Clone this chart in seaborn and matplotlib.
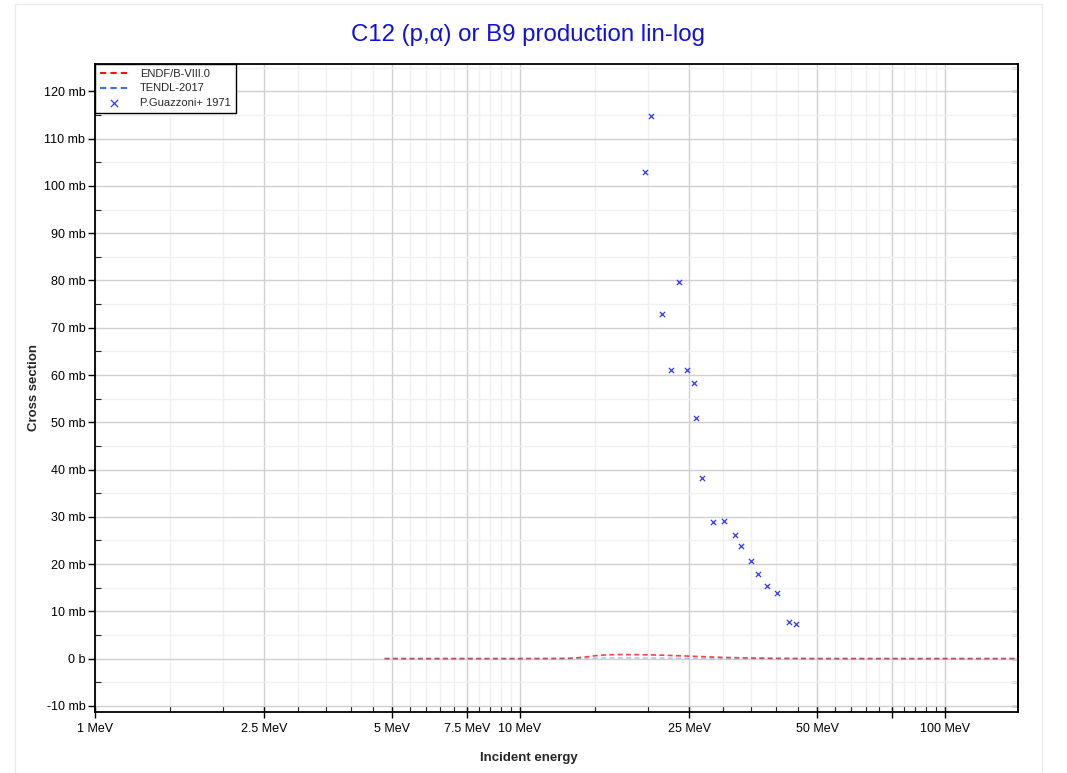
import numpy as np
import pandas as pd
import matplotlib
matplotlib.use("Agg")
import matplotlib.pyplot as plt
import seaborn as sns
from matplotlib.ticker import FixedLocator, FuncFormatter, NullFormatter
from matplotlib.patches import Rectangle

# ---------------- data ----------------
exp_energy = [19.7, 20.3, 21.6, 22.7, 23.7, 24.7, 25.7, 25.9, 26.8, 28.5,
              30.2, 32.1, 33.1, 35.0, 36.3, 38.1, 40.3, 43.0, 44.6]
exp_xs = [102.9, 114.7, 73.0, 61.0, 79.6, 61.0, 58.4, 51.0, 38.3, 28.8,
          29.2, 26.2, 23.9, 20.7, 17.8, 15.4, 13.8, 7.8, 7.4]

endf_energy = [4.8, 6, 8, 10, 12, 13, 14, 15, 16, 17, 18, 20, 22, 25, 28, 30,
               35, 40, 50, 70, 100, 150]
endf_xs = [0.0, 0.0, 0.0, 0.0, 0.02, 0.05, 0.25, 0.6, 0.8, 0.85, 0.85, 0.8,
           0.7, 0.52, 0.35, 0.25, 0.12, 0.05, 0.0, 0.0, 0.0, 0.0]

tendl_energy = [4.8, 6, 8, 10, 12, 14, 16, 18, 20, 25, 30, 40, 50, 70, 100, 150]
tendl_xs = [0.0, 0.0, 0.0, 0.0, 0.0, 0.05, 0.15, 0.15, 0.12, 0.08, 0.04, 0.0,
            0.0, 0.0, 0.0, 0.0]

x_major_ticks = [1, 2.5, 5, 7.5, 10, 25, 50, 75, 100]
x_major_labels = ["1 MeV", "2.5 MeV", "5 MeV", "7.5 MeV", "10 MeV", "25 MeV",
                  "50 MeV", "", "100 MeV"]
x_minor_ticks = ([1.5, 2, 3, 3.5, 4, 4.5, 5.5, 6, 6.5, 7, 8, 8.5, 9, 9.5,
                  15, 20, 30, 35, 40, 45, 55, 60, 65, 70, 80, 85, 90, 95])
y_major_ticks = [-10, 0, 10, 20, 30, 40, 50, 60, 70, 80, 90, 100, 110, 120]
y_minor_ticks = [-5, 5, 15, 25, 35, 45, 55, 65, 75, 85, 95, 105, 115, 125]

title = "C12 (p,\u03b1) or B9 production lin-log"

# ---------------- plot ----------------
sns.set_style("white")
plt.rcParams["font.family"] = ["Liberation Sans", "DejaVu Sans"]

fig = plt.figure(figsize=(10.67, 7.73), dpi=100)
ax = fig.add_axes([95 / 1067, 1 - 712 / 773, (1018 - 95) / 1067, (712 - 64) / 773])

fig.patches.append(Rectangle((15 / 1067, -0.01), (1042 - 15) / 1067, 1 - 4 / 773 + 0.01,
                             transform=fig.transFigure, fill=False,
                             edgecolor="#ebebeb", linewidth=1, zorder=0))

df_endf = pd.DataFrame({"E": endf_energy, "xs": endf_xs})
df_tendl = pd.DataFrame({"E": tendl_energy, "xs": tendl_xs})
df_exp = pd.DataFrame({"E": exp_energy, "xs": exp_xs})

sns.lineplot(data=df_endf, x="E", y="xs", ax=ax, color="#ff1010",
             linestyle=(0, (3, 2)), linewidth=1.2, label="ENDF/B-VIII.0",
             alpha=0.8, zorder=3)
sns.lineplot(data=df_tendl, x="E", y="xs", ax=ax, color="#3a6cf0",
             linestyle=(0, (3, 2)), linewidth=1.2, label="TENDL-2017",
             alpha=0.35, zorder=4)
sns.scatterplot(data=df_exp, x="E", y="xs", ax=ax, marker="x", color="#3535ff",
                s=14, linewidth=0.9, label="P.Guazzoni+ 1971", zorder=5)

ax.set_xscale("log")
ax.set_xlim(1, 148.5)
ax.set_ylim(-11.3, 125.8)

ax.xaxis.set_major_locator(FixedLocator(x_major_ticks))
ax.xaxis.set_major_formatter(FuncFormatter(
    lambda v, p: dict(zip(x_major_ticks, x_major_labels)).get(v, "")))
ax.xaxis.set_minor_locator(FixedLocator(x_minor_ticks))
ax.xaxis.set_minor_formatter(NullFormatter())

ax.yaxis.set_major_locator(FixedLocator(y_major_ticks))
ax.yaxis.set_major_formatter(FuncFormatter(
    lambda v, p: "0 b" if abs(v) < 1e-9 else f"{int(round(v))} mb"))
ax.yaxis.set_minor_locator(FixedLocator(y_minor_ticks))

ax.grid(which="major", color="#d0d0d0", linewidth=1.0, zorder=0)
ax.grid(which="minor", color="#f0f0f0", linewidth=1.0, zorder=0)
ax.set_axisbelow(True)

for s in ax.spines.values():
    s.set_color("black")
    s.set_linewidth(1.3)
    s.set_visible(True)

ax.tick_params(axis="y", which="major", direction="out", length=5, width=1,
               labelsize=9, colors="black", left=True, right=False, pad=2)
ax.tick_params(axis="y", which="minor", direction="in", length=4, width=0.8,
               left=True, right=False)
ax.tick_params(axis="x", which="major", direction="inout", length=8, width=1,
               labelsize=9, colors="black", bottom=True, top=False, pad=4)
ax.tick_params(axis="x", which="minor", direction="in", length=4, width=0.8,
               bottom=True, top=False)

# right-side inward ticks
sec = ax.secondary_yaxis("right")
sec.yaxis.set_major_locator(FixedLocator(y_major_ticks + y_minor_ticks))
sec.yaxis.set_major_formatter(NullFormatter())
sec.tick_params(axis="y", which="major", direction="in", length=4, width=1)
sec.spines["right"].set_linewidth(1.3)

ax.set_xlabel("Incident energy", fontsize=9.5, fontweight="bold")
ax.xaxis.set_label_coords((529 - 95) / 923, -0.062)
ax.set_ylabel("Cross section", fontsize=9.5, fontweight="bold")
ax.yaxis.set_label_coords(-(95 - 40) / 923, 0.5)
fig.text(528 / 1067, 1 - 35 / 773, title, ha="center", va="center",
         fontsize=17.3, color="#1010dd")

leg = ax.legend(loc="upper left", bbox_to_anchor=(0, 1), borderaxespad=0,
                fontsize=8, frameon=True, fancybox=False, edgecolor="black",
                framealpha=1, handlelength=2.6, handletextpad=1.0,
                borderpad=0.45, labelspacing=0.4, markerscale=1.4)
leg.get_frame().set_linewidth(1.0)
for h in leg.get_lines():
    h.set_linewidth(1.5)
    h.set_alpha(1)

fig.savefig("out.png", dpi=100)
